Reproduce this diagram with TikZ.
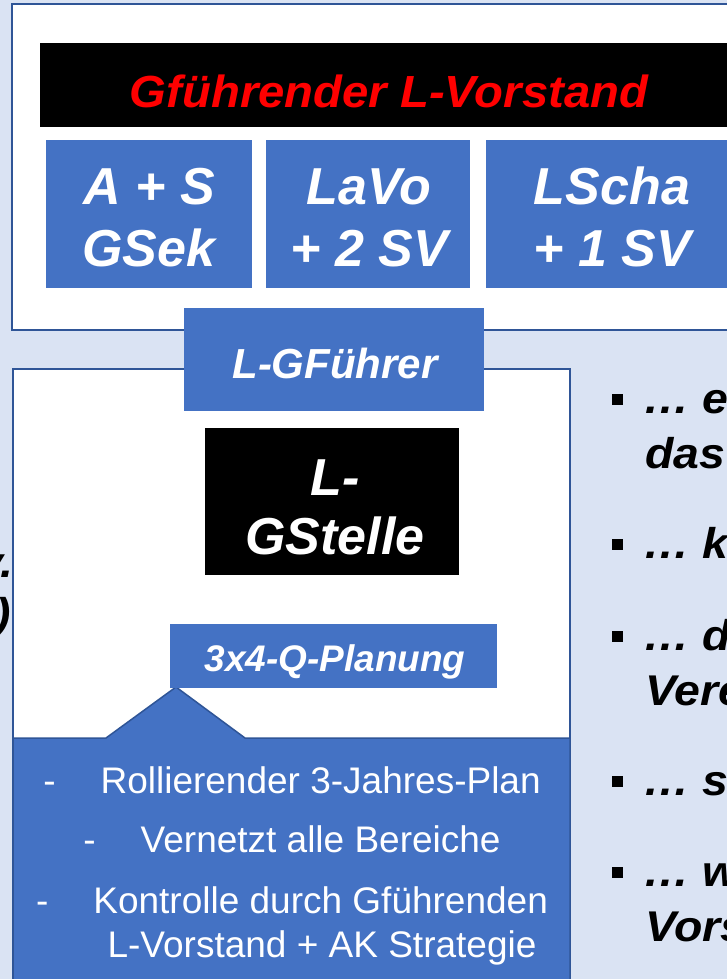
\documentclass[tikz,border=0pt]{standalone}
\usepackage{fontspec}
\setmainfont{Liberation Sans}
\usepackage{graphicx}
\definecolor{bg}{HTML}{DAE3F3}
\definecolor{frameblue}{HTML}{2F5597}
\definecolor{boxblue}{HTML}{4472C4}
\definecolor{titlered}{HTML}{FF0000}
\newcommand\bulstretch[1]{\scalebox{1.08}[1]{#1}}
\tikzset{
  panel/.style={fill=white, draw=frameblue, line width=2.5pt, inner sep=0, outer sep=0, anchor=north west},
  solidbox/.style={draw=none, inner sep=0, outer sep=0, anchor=north west},
  bigtxt/.style={inner sep=0, anchor=base, text=white, font=\fontsize{52}{62}\selectfont\bfseries\itshape},
  midtxt/.style={inner sep=0, anchor=base, text=white, font=\fontsize{42}{50}\selectfont\bfseries\itshape},
  plantxt/.style={inner sep=0, anchor=base, text=white, font=\fontsize{37}{44}\selectfont\bfseries\itshape},
  calltxt/.style={inner sep=0, anchor=base, text=white, font=\fontsize{37}{44}\selectfont},
  bultxt/.style={inner sep=0, anchor=base west, text=black, font=\fontsize{43}{50}\selectfont\bfseries\itshape},
  bulsq/.style={fill=black, draw=none, inner sep=0, minimum size=11pt},
  callout/.style={fill=boxblue, draw=frameblue, line width=1.5pt, line join=miter},
}
\begin{document}
\begin{tikzpicture}[x=1pt,y=-1pt]
\useasboundingbox (0,0) rectangle (727,979);
\clip (0,0) rectangle (727,979);
\fill[bg] (0,0) rectangle (727,979);

% cut-off text fragments on the left edge
\node[bultxt, anchor=base east] (fragA) at (14,577) {\bulstretch{v.}};
\node[bultxt, anchor=base east] (fragB) at (11,628) {\bulstretch{)}};

% top panel
\node[panel, minimum width=760pt, minimum height=326pt] (toppanel) at (12,4) {};
\node[solidbox, fill=black, minimum width=720pt, minimum height=84pt] (titlebar) at (40,43) {};
\node[inner sep=0, anchor=base, text=titlered, font=\fontsize{45}{54}\selectfont\bfseries\itshape] (title) at (389,107) {\scalebox{1.05}[1]{Gführender L-Vorstand}};

\node[solidbox, fill=boxblue, minimum width=206pt, minimum height=148pt] (as) at (46,140) {};
\node[solidbox, fill=boxblue, minimum width=204pt, minimum height=148pt] (lavo) at (266,140) {};
\node[solidbox, fill=boxblue, minimum width=274pt, minimum height=148pt] (lscha) at (486,140) {};
\node[bigtxt] (asA) at (149,204) {A + S};
\node[bigtxt] (asB) at (149,266) {GSek};
\node[bigtxt] (lavoA) at (369,204) {LaVo};
\node[bigtxt] (lavoB) at (369,266) {+ 2 SV};
\node[bigtxt] (lschaA) at (612,204) {LScha};
\node[bigtxt] (lschaB) at (612,266) {+ 1 SV};

% lower panel
\node[panel, minimum width=557pt, minimum height=640pt] (lowpanel) at (13,369) {};

\node[solidbox, fill=boxblue, minimum width=300pt, minimum height=103pt] (gf) at (184,308) {};
\node[midtxt] (gftxt) at (335,378) {L-GFührer};

\node[solidbox, fill=black, minimum width=254pt, minimum height=147pt] (gst) at (205,428) {};
\node[bigtxt] (gstA) at (335,495) {L-};
\node[bigtxt] (gstB) at (335,554) {GStelle};

% callout
\draw[callout] (13,738) -- (106,738) -- (176,687) -- (245,738) -- (570,738) -- (570,1010) -- (13,1010) -- cycle;

\node[solidbox, fill=boxblue, minimum width=327pt, minimum height=64pt] (plan) at (170,624) {};
\node[plantxt] (plantxt) at (335,671) {3x4-Q-Planung};

\node[calltxt] (c1) at (292,793) {-\hspace{45pt}Rollierender 3-Jahres-Plan};
\node[calltxt] (c2) at (292,852) {-\hspace{45pt}Vernetzt alle Bereiche};
\node[calltxt] (c3) at (292,913) {-\hspace{45pt}Kontrolle durch Gführenden};
\node[calltxt] (c4) at (322,957) {L-Vorstand + AK Strategie};

% right bullet list (cut off at the edge)
\node[bulsq] (b1) at (617,399) {};
\node[bultxt] (t1) at (643,413) {\bulstretch{… e}};
\node[bultxt] (t1b) at (645,468) {\bulstretch{das}};
\node[bulsq] (b2) at (617,544) {};
\node[bultxt] (t2) at (643,558) {\bulstretch{… k}};
\node[bulsq] (b3) at (617,636) {};
\node[bultxt] (t3) at (643,650) {\bulstretch{… d}};
\node[bultxt] (t3b) at (645,705) {\bulstretch{Vere}};
\node[bulsq] (b4) at (617,781) {};
\node[bultxt] (t4) at (643,795) {\bulstretch{… s}};
\node[bulsq] (b5) at (617,872) {};
\node[bultxt] (t5) at (643,886) {\bulstretch{… w}};
\node[bultxt] (t5b) at (645,941) {\bulstretch{Vors}};
\end{tikzpicture}
\end{document}
